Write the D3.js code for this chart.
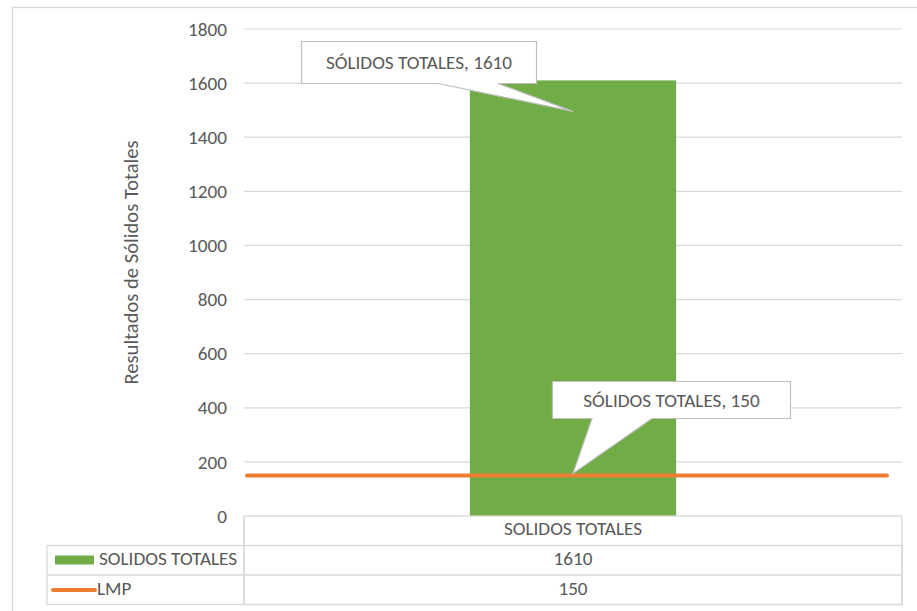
<!DOCTYPE html>
<html>
<head>
<meta charset="utf-8">
<script src="https://cdn.jsdelivr.net/npm/d3@7"></script>
<style>
  html, body { margin: 0; padding: 0; background: #fff; }
  svg { display: block; }
  text { font-family: Carlito, Calibri, Lato, sans-serif; fill: #595959; }
</style>
</head>
<body>
<svg id="chart" width="917" height="611"></svg>
<script>
// Chart data
const categories = ["SOLIDOS TOTALES"];
const solidosTotales = [1610];
const lmp = [150];
const seriesNames = ["SOLIDOS TOTALES", "LMP"];
const yTicks = [0, 200, 400, 600, 800, 1000, 1200, 1400, 1600, 1800];
const yTitle = "Resultados de Sólidos Totales";
const calloutLabel = "SÓLIDOS TOTALES";

const green = "#70ad47";
const orange = "#ed7d31";
const gridColor = "#d9d9d9";
const fontSize = "19.2px";

const svg = d3.select("#chart");

// Layout
const plot = { left: 244, right: 902, top: 29, bottom: 516 };
const rowH = 29.5;
const legendLeft = 47;

const x = d3.scaleBand().domain(categories).range([plot.left, plot.right]).padding(0);
const y = d3.scaleLinear().domain([0, 1800]).range([plot.bottom, plot.top]);
const gapWidth = 2.19; // gap between bars relative to bar width
const barW = x.bandwidth() / (1 + gapWidth);

// Chart frame
svg.append("rect")
  .attr("x", 12.5).attr("y", 7.5)
  .attr("width", 930).attr("height", 640)
  .attr("fill", "none").attr("stroke", gridColor).attr("stroke-width", 1.3);

// Gridlines
svg.append("g").selectAll("line")
  .data(yTicks.filter(d => d > 0))
  .join("line")
  .attr("x1", plot.left).attr("x2", plot.right)
  .attr("y1", d => y(d)).attr("y2", d => y(d))
  .attr("stroke", gridColor).attr("stroke-width", 1.2);

// Y axis labels
const yAxis = d3.axisLeft(y).tickValues(yTicks).tickFormat(d3.format("d")).tickSize(0).tickPadding(17);
const gy = svg.append("g").attr("transform", `translate(${plot.left},0)`).call(yAxis);
gy.attr("font-size", null).attr("font-family", null);
gy.select(".domain").remove();
gy.selectAll("text")
  .style("font-size", fontSize)
  .attr("fill", "#595959");

// Y axis title
svg.append("text")
  .attr("transform", "translate(138,262.5) rotate(-90)")
  .attr("text-anchor", "middle")
  .style("font-size", "20.6px")
  .text(yTitle);

// Bars
svg.append("g").selectAll("rect")
  .data(categories.map((c, i) => ({ c, v: solidosTotales[i] })))
  .join("rect")
  .attr("x", d => x(d.c) + (x.bandwidth() - barW) / 2)
  .attr("width", barW)
  .attr("y", d => y(d.v))
  .attr("height", d => y(0) - y(d.v))
  .attr("fill", green);

// LMP limit line across the plot
const lineGen = d3.line().x(d => d[0]).y(d => d[1]);
const lmpPts = [[plot.left + 3, y(lmp[0])], [plot.right - 15, y(lmp[0])]];
svg.append("path")
  .attr("d", lineGen(lmpPts))
  .attr("stroke", orange).attr("stroke-width", 4)
  .attr("stroke-linecap", "round").attr("fill", "none");

// Callout boxes with pointers
function callout(box, base, tip, text) {
  const p = d3.path();
  p.moveTo(box.x0, box.y0);
  p.lineTo(box.x1, box.y0);
  p.lineTo(box.x1, box.y1);
  p.lineTo(base[1], box.y1);
  p.lineTo(tip[0], tip[1]);
  p.lineTo(base[0], box.y1);
  p.lineTo(box.x0, box.y1);
  p.closePath();
  svg.append("path").attr("d", p.toString())
    .attr("fill", "#fff").attr("stroke", "#bfbfbf").attr("stroke-width", 1.2);
  svg.append("text")
    .attr("x", (box.x0 + box.x1) / 2).attr("y", (box.y0 + box.y1) / 2 + 6.5)
    .attr("text-anchor", "middle")
    .style("font-size", fontSize)
    .text(text);
}
const cx = x(categories[0]) + x.bandwidth() / 2;
callout({ x0: 301.5, x1: 536.5, y0: 41.5, y1: 83.5 }, [438, 498],
  [cx, y(solidosTotales[0]) + 31], `${calloutLabel}, ${solidosTotales[0]}`);
callout({ x0: 552.5, x1: 790.5, y0: 381.5, y1: 418.5 }, [592, 652],
  [cx, y(lmp[0]) - 2], `${calloutLabel}, ${lmp[0]}`);

// Data table below the plot
const tbl = svg.append("g").attr("fill", "none").attr("stroke", gridColor).attr("stroke-width", 1.3);
const r0 = plot.bottom, r1 = r0 + rowH, r2 = r1 + rowH, r3 = r2 + rowH;
tbl.append("rect").attr("x", plot.left).attr("y", r0).attr("width", plot.right - plot.left).attr("height", r3 - r0);
tbl.append("rect").attr("x", legendLeft).attr("y", r1).attr("width", plot.right - legendLeft).attr("height", r3 - r1);
tbl.append("line").attr("x1", legendLeft).attr("x2", plot.right).attr("y1", r2).attr("y2", r2);
tbl.append("line").attr("x1", plot.left).attr("x2", plot.left).attr("y1", r0).attr("y2", r3);

// Table header (category)
svg.append("g").selectAll("text")
  .data(categories).join("text")
  .attr("x", d => x(d) + x.bandwidth() / 2).attr("y", r0 + 19)
  .attr("text-anchor", "middle").style("font-size", fontSize)
  .text(d => d);

// Table values
const rows = [solidosTotales, lmp];
rows.forEach((vals, ri) => {
  svg.append("g").selectAll("text")
    .data(categories.map((c, i) => ({ c, v: vals[i] }))).join("text")
    .attr("x", d => x(d.c) + x.bandwidth() / 2)
    .attr("y", r1 + ri * rowH + 19.5)
    .attr("text-anchor", "middle").style("font-size", fontSize)
    .text(d => d.v);
});

// Legend keys in the table
svg.append("rect").attr("x", 55).attr("y", r1 + 10).attr("width", 39).attr("height", 9).attr("fill", green);
svg.append("line").attr("x1", 53).attr("x2", 95).attr("y1", r2 + 15).attr("y2", r2 + 15)
  .attr("stroke", orange).attr("stroke-width", 4).attr("stroke-linecap", "round");
seriesNames.forEach((name, i) => {
  svg.append("text").attr("x", i === 0 ? 99 : 97).attr("y", r1 + i * rowH + 19.5)
    .style("font-size", fontSize).text(name);
});
</script>
</body>
</html>
